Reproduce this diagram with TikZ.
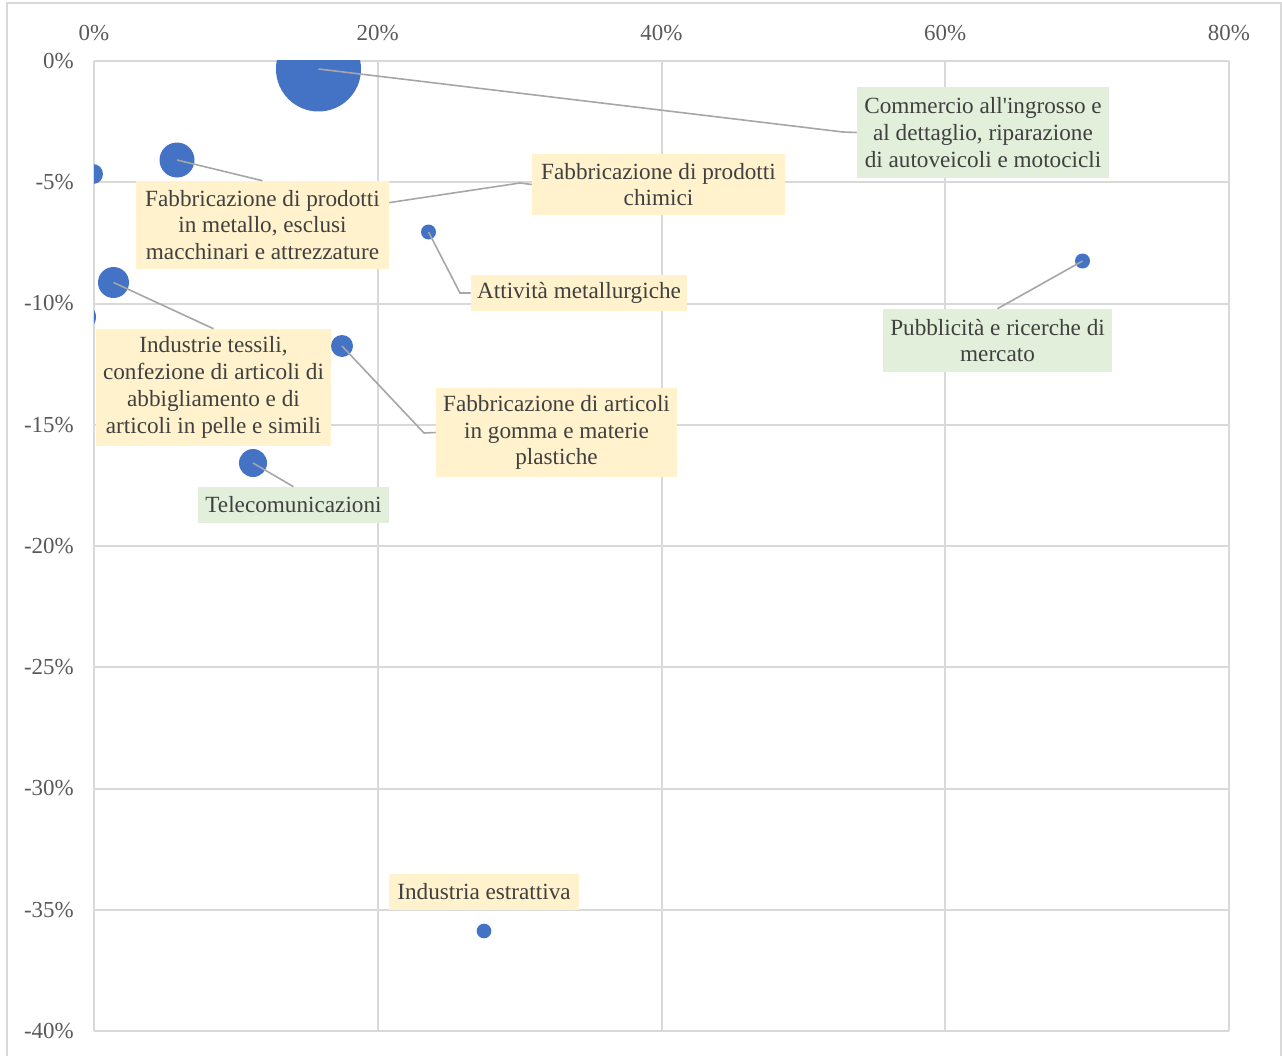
\documentclass[tikz,border=0pt]{standalone}
\usepackage{fontspec}
\newfontfamily\lfont{Liberation Serif}
\definecolor{gridc}{HTML}{D9D9D9}
\definecolor{bubc}{HTML}{4472C4}
\definecolor{yelc}{HTML}{FFF2CC}
\definecolor{grnc}{HTML}{E2EFDA}
\definecolor{leadc}{HTML}{A6A6A6}
\definecolor{txtc}{HTML}{404040}
\definecolor{axc}{HTML}{595959}
\begin{document}
\begin{tikzpicture}[x=0.75pt,y=-0.75pt,
  gridline/.style={draw=gridc,line width=1.5pt},
  bubble/.style={circle,fill=bubc,draw=none,inner sep=0pt},
  leader/.style={draw=leadc,line width=1.2pt},
  lab/.style={inner sep=0pt,align=center,text=txtc,font=\lfont\fontsize{17.4}{20.1}\selectfont},
  ybox/.style={lab,fill=yelc},
  gbox/.style={lab,fill=grnc},
  axlab/.style={inner sep=0pt,text=axc,font=\lfont\fontsize{17.2}{19}\selectfont}]
\useasboundingbox (0,0) rectangle (1282,1056);
% outer frame
\draw[gridline] (6.5,1060) -- (6.5,3.5) -- (1280.5,3.5) -- (1280.5,1060);
% grid
\foreach \i in {0,...,4} {\draw[gridline] ({94+283.75*\i},61) -- ({94+283.75*\i},1031);}
\foreach \j in {0,...,8} {\draw[gridline] (94,{61+121.25*\j}) -- (1229,{61+121.25*\j});}
% axis labels
\foreach \i/\t in {0/0,1/20,2/40,3/60,4/80}
  {\node[axlab] (xl\i) at ({94+283.75*\i},33) {\t\%};}
\foreach \j/\t in {0/0\%,1/-5\%,2/-10\%,3/-15\%,4/-20\%,5/-25\%,6/-30\%,7/-35\%,8/-40\%}
  {\node[axlab,anchor=east] (yl\j) at (74,{61+121.25*\j}) {\t};}
% bubbles
\begin{scope}
\clip (94,61) rectangle (1229,1031);
\node[bubble,minimum size=63.75pt] (b1) at (318.5,69) {};
\node[bubble,minimum size=26.25pt] (b2) at (177,160) {};
\node[bubble,minimum size=15pt] (b3) at (93,174) {};
\node[bubble,minimum size=23.25pt] (b4) at (113.5,282.5) {};
\node[bubble,minimum size=21pt] (b5) at (82,317) {};
\node[bubble,minimum size=10.5pt] (b6) at (300,216) {};
\node[bubble,minimum size=11.25pt] (b7) at (428.5,232) {};
\node[bubble,minimum size=16.5pt] (b8) at (342,346) {};
\node[bubble,minimum size=21pt] (b9) at (253,463) {};
\node[bubble,minimum size=11.25pt] (b10) at (1082.5,261) {};
\node[bubble,minimum size=11pt] (b11) at (484,931) {};
\end{scope}
% label boxes
\node[gbox,minimum width=189pt,minimum height=68.25pt] (c1) at (983,132.5)
   {Commercio all'ingrosso e\\al dettaglio, riparazione\\di autoveicoli e motocicli};
\node[ybox,minimum width=189.75pt,minimum height=45.75pt] (c3) at (658.5,184.5)
   {Fabbricazione di prodotti\\chimici};
\node[ybox,minimum width=162pt,minimum height=27pt] (c4) at (579,293)
   {Attività metallurgiche};
\node[gbox,minimum width=171.75pt,minimum height=47.25pt] (c5) at (997.5,340.5)
   {Pubblicità e ricerche di\\mercato};
\node[ybox,minimum width=180.75pt,minimum height=66.75pt] (c7) at (556.5,432.5)
   {Fabbricazione di articoli\\in gomma e materie\\plastiche};
\node[gbox,minimum width=143.25pt,minimum height=27pt] (c8) at (293.5,505)
   {Telecomunicazioni};
\node[ybox,minimum width=142.5pt,minimum height=27pt] (c9) at (484,892)
   {Industria estrattiva};
% leaders
\coordinate (k1) at (843,132);
\coordinate (k3) at (520,183);
\coordinate (k4) at (460,293);
\coordinate (k7) at (424,433);
\draw[leader] (b1.center) -- (k1) -- (c1.west);
\draw[leader] (b6.center) -- (k3) -- (c3.west);
\draw[leader] (b7.center) -- (k4) -- (c4.west);
\draw[leader] (b8.center) -- (k7) -- (c7.west);
\draw[leader] (b10.center) -- (c5.north);
\draw[leader] (b9.center) -- (c8.north);
% boxes drawn over their leaders
\node[ybox,minimum width=189.75pt,minimum height=66pt] (c2) at (262.5,225)
   {Fabbricazione di prodotti\\in metallo, esclusi\\macchinari e attrezzature};
\node[ybox,minimum width=176.25pt,minimum height=87.75pt] (c6) at (213.5,387.5)
   {Industrie tessili,\\confezione di articoli di\\abbigliamento e di\\articoli in pelle e simili};
\draw[leader] (b2.center) -- (c2.north);
\draw[leader] (b4.center) -- (c6.north);
\end{tikzpicture}
\end{document}
